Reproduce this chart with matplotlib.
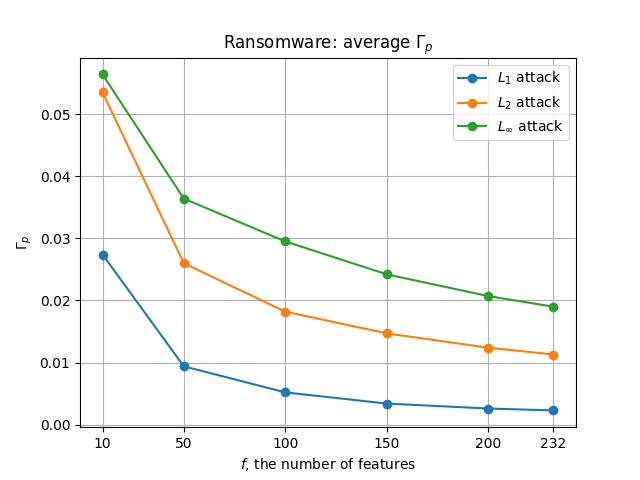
import matplotlib
matplotlib.use("Agg")
import matplotlib.pyplot as plt

# number of features
features = [10, 50, 100, 150, 200, 232]

# average Gamma_p per attack
gamma_l1 = [0.0274, 0.0094, 0.0052, 0.0034, 0.0026, 0.0023]
gamma_l2 = [0.0535, 0.0260, 0.0182, 0.0147, 0.0124, 0.0113]
gamma_linf = [0.0564, 0.0364, 0.0295, 0.0242, 0.0207, 0.0190]


def paint():
    fig, ax = plt.subplots(figsize=(6.4, 4.8), dpi=100)
    ax.plot(features, gamma_l1, 'o-', label='$L_1$ attack')
    ax.plot(features, gamma_l2, 'o-', label='$L_2$ attack')
    ax.plot(features, gamma_linf, 'o-', label=r'$L_\infty$ attack')
    ax.set_xticks(features)
    ax.grid(True)
    ax.legend(loc='upper right')
    ax.set_title(r'Ransomware: average $\Gamma_p$')
    ax.set_xlabel('$f$, the number of features')
    ax.set_ylabel(r'$\Gamma_p$')
    fig.savefig('out.png')


if __name__ == '__main__':
    paint()
